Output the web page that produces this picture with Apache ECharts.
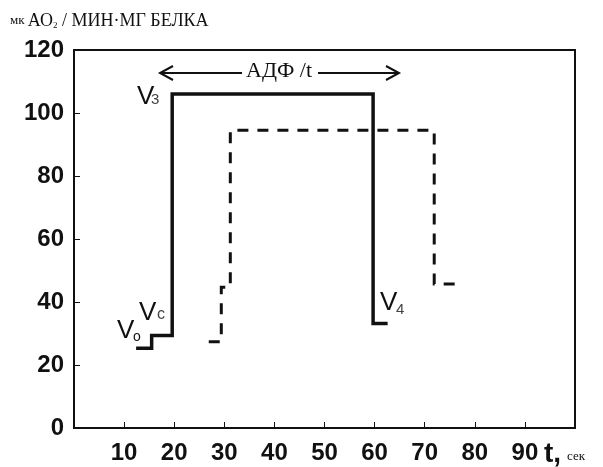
<!DOCTYPE html>
<html><head><meta charset="utf-8">
<script src="https://cdn.jsdelivr.net/npm/echarts@6/dist/echarts.min.js"></script>
<style>html,body{margin:0;padding:0;background:#fff}#c{width:603px;height:467px}</style>
</head><body><div id="c"></div>
<script>
// Data
const xTicks = [10, 20, 30, 40, 50, 60, 70, 80, 90];
const yTicks = [0, 20, 40, 60, 80, 100, 120];
const solidX = [12.4, 15.5, 15.5, 19.6, 19.6, 59.7, 59.7, 62.6];
const solidY = [25.3, 25.3, 29.4, 29.4, 106, 106, 33.2, 33.2];
const dashX = [26.9, 29.4, 29.4, 31.2, 31.2, 71.9, 71.9, 76.2];
const dashY = [27.4, 27.4, 44.7, 44.7, 94.5, 94.5, 45.7, 45.7];

const chart = echarts.init(document.getElementById('c'), null, {renderer: 'canvas'});
const ink = '#111';
const sans = 'Liberation Sans, Arial, sans-serif';
const serif = 'Liberation Serif, Times New Roman, serif';

const pair = (xs, ys) => xs.map((x, i) => [x, ys[i]]);

chart.setOption({
  animation: false,
  backgroundColor: '#fff',
  grid: {left: 74, right: 28, top: 50, bottom: 39, show: true, borderColor: ink, borderWidth: 2},
  xAxis: {
    type: 'value', min: 0, max: 100, interval: 10,
    axisLine: {lineStyle: {color: ink, width: 2}},
    axisTick: {inside: true, length: 6, lineStyle: {color: ink, width: 1}},
    splitLine: {show: false},
    axisLabel: {
      color: ink, fontFamily: sans, fontSize: 24, fontWeight: 'bold', margin: 13,
      formatter: v => xTicks.includes(v) ? String(v) : ''
    }
  },
  yAxis: {
    type: 'value', min: 0, max: 120, interval: 20,
    axisLine: {show: true, lineStyle: {color: ink, width: 2}},
    axisTick: {show: true, inside: true, length: 6, lineStyle: {color: ink, width: 1}},
    splitLine: {show: false},
    axisLabel: {
      color: ink, fontFamily: sans, fontSize: 24, fontWeight: 'bold', margin: 10,
      formatter: v => yTicks.includes(v) ? String(v) : ''
    }
  },
  series: [
    {type: 'line', data: pair(solidX, solidY), symbol: 'none',
      lineStyle: {color: ink, width: 3.5, join: 'miter'}},
    {type: 'line', data: pair(dashX, dashY), symbol: 'none',
      lineStyle: {color: ink, width: 3, type: [11, 9], join: 'miter'}}
  ],
  graphic: [
    {type: 'text', left: 10, top: 12, style: {
      rich: {
        s: {fontFamily: serif, fontSize: 13, fill: ink},
        m: {fontFamily: serif, fontSize: 18, fill: ink},
        b: {fontFamily: serif, fontSize: 9, fill: ink, verticalAlign: 'bottom', padding: [8, 0, 0, 0]}
      },
      text: '{s|мк }{m|АО}{b|2}{m| / МИН·МГ БЕЛКА}'
    }},
    // arrow line
    {type: 'polyline', shape: {points: [[160, 73], [242, 73]]}, style: {stroke: ink, lineWidth: 2}},
    {type: 'polyline', shape: {points: [[173, 66], [160, 73], [173, 80]]}, style: {stroke: ink, lineWidth: 2, fill: null}},
    {type: 'polyline', shape: {points: [[318, 73], [399, 73]]}, style: {stroke: ink, lineWidth: 2}},
    {type: 'polyline', shape: {points: [[386, 66], [399, 73], [386, 80]]}, style: {stroke: ink, lineWidth: 2, fill: null}},
    {type: 'text', left: 246, top: 60, style: {text: 'АДФ /t', fontFamily: serif, fontSize: 22, fill: ink}},
    // V labels
    {type: 'text', left: 117, top: 318, style: {text: 'V', fontFamily: sans, fontSize: 26, fill: ink}},
    {type: 'text', left: 133, top: 330, style: {text: 'o', fontFamily: sans, fontSize: 14, fill: ink}},
    {type: 'text', left: 139, top: 300, style: {text: 'V', fontFamily: sans, fontSize: 26, fill: ink}},
    {type: 'text', left: 157, top: 307, style: {text: 'c', fontFamily: sans, fontSize: 16, fill: '#444'}},
    {type: 'text', left: 137, top: 84, style: {text: 'V', fontFamily: sans, fontSize: 26, fill: ink}},
    {type: 'text', left: 151, top: 92, style: {text: '3', fontFamily: sans, fontSize: 15, fill: '#444'}},
    {type: 'text', left: 380, top: 290, style: {text: 'V', fontFamily: sans, fontSize: 26, fill: ink}},
    {type: 'text', left: 396, top: 302, style: {text: '4', fontFamily: sans, fontSize: 15, fill: '#444'}},
    // x axis name
    {type: 'text', left: 544, top: 440, style: {text: 't,', fontFamily: sans, fontSize: 28, fontWeight: 'bold', fill: ink}},
    {type: 'text', left: 567, top: 450, style: {text: 'сек', fontFamily: serif, fontSize: 13, fill: ink}}
  ]
});
</script></body></html>
